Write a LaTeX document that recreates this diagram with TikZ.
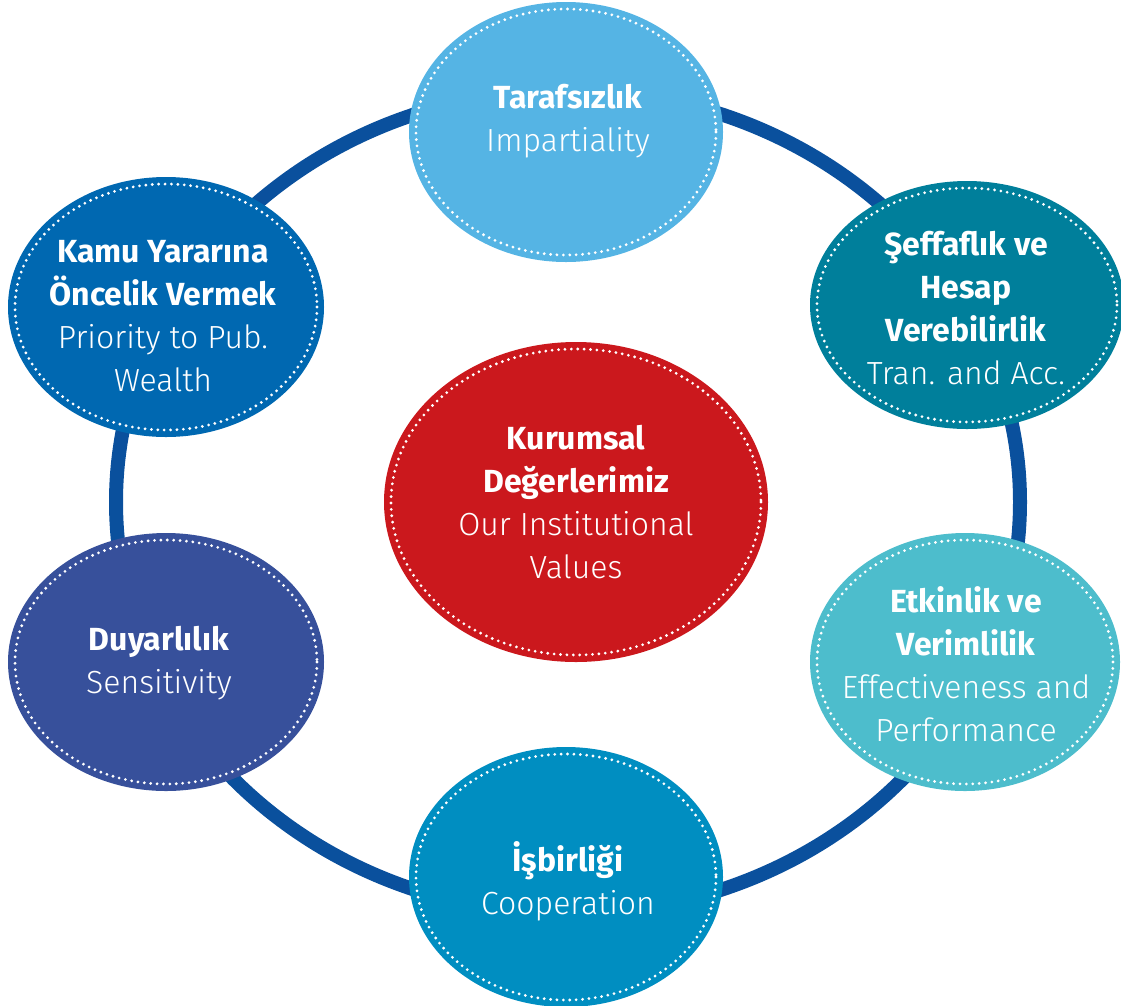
\documentclass[tikz,border=0pt]{standalone}
\usepackage{fontspec}
\setmainfont{Fira Sans}
\newfontfamily\lightf{Fira Sans Light}
\usetikzlibrary{shapes.geometric}
\definecolor{ringc}{HTML}{0A509D}
\definecolor{tarc}{HTML}{55B4E4}
\definecolor{kamuc}{HTML}{0068B1}
\definecolor{seffc}{HTML}{007F9B}
\definecolor{kurc}{HTML}{CB181D}
\definecolor{duyc}{HTML}{37509B}
\definecolor{etkc}{HTML}{4DBDCC}
\definecolor{isbc}{HTML}{008EC1}
\newcommand\ttl[1]{{\bfseries #1}}
\newcommand\subt[1]{{\lightf #1}}
\tikzset{
  bub/.style={ellipse, inner sep=0pt, draw=none},
  dots/.style={white, line width=3.1pt, line cap=round, dash pattern=on 0pt off 6.4pt},
  lbl/.style={text=white, align=center, inner sep=0pt, font=\fontsize{32}{43}\selectfont},
  ringline/.style={draw=ringc, line width=14pt},
}
\begin{document}
\begin{tikzpicture}[x=1pt,y=-1pt]
\useasboundingbox (0,0) rectangle (1121,1005);
% ring
\coordinate (ringc) at (568,502);
\draw[ringline] (ringc) ellipse (452 and 412);
% bubbles
\node[bub, fill=tarc,  minimum width=314pt, minimum height=260pt] (tar)  at (566,132) {};
\node[bub, fill=kamuc, minimum width=316pt, minimum height=260pt] (kamu) at (166,307) {};
\node[bub, fill=seffc, minimum width=314pt, minimum height=248pt] (seff) at (967,305) {};
\node[bub, fill=kurc,  minimum width=384pt, minimum height=320pt] (kur)  at (576,502) {};
\node[bub, fill=duyc,  minimum width=316pt, minimum height=258pt] (duy)  at (166,662) {};
\node[bub, fill=etkc,  minimum width=310pt, minimum height=258pt] (etk)  at (965,662) {};
\node[bub, fill=isbc,  minimum width=314pt, minimum height=260pt] (isb)  at (566,877) {};
% dotted inner outlines
\draw[dots] (tar.center)  ellipse (150 and 123);
\draw[dots] (kamu.center) ellipse (151 and 123);
\draw[dots] (seff.center) ellipse (150 and 117);
\draw[dots] (kur.center)  ellipse (185 and 153);
\draw[dots] (duy.center)  ellipse (151 and 122);
\draw[dots] (etk.center)  ellipse (148 and 122);
\draw[dots] (isb.center)  ellipse (150 and 123);
% texts
\node[lbl] (tart)  at (568,121) {\ttl{Tarafsızlık}\\\subt{Impartiality}};
\node[lbl] (kamut) at (163,316) {\ttl{Kamu Yararına}\\\ttl{Öncelik Vermek}\\\subt{Priority to Pub.}\\\subt{Wealth}};
\node[lbl] (sefft) at (966,308) {\ttl{Şeffaflık ve}\\\ttl{Hesap}\\\ttl{Verebilirlik}\\\subt{Tran. and Acc.}};
\node[lbl] (kurt)  at (576,502) {\ttl{Kurumsal}\\\ttl{Değerlerimiz}\\\subt{Our Institutional}\\\subt{Values}};
\node[lbl] (duyt)  at (159,663) {\ttl{Duyarlılık}\\\subt{Sensitivity}};
\node[lbl] (etkt)  at (966,664) {\ttl{Etkinlik ve}\\\ttl{Verimlilik}\\\subt{Effectiveness and}\\\subt{Performance}};
\node[lbl] (isbt)  at (568,881) {\ttl{İşbirliği}\\\subt{Cooperation}};
\end{tikzpicture}
\end{document}
